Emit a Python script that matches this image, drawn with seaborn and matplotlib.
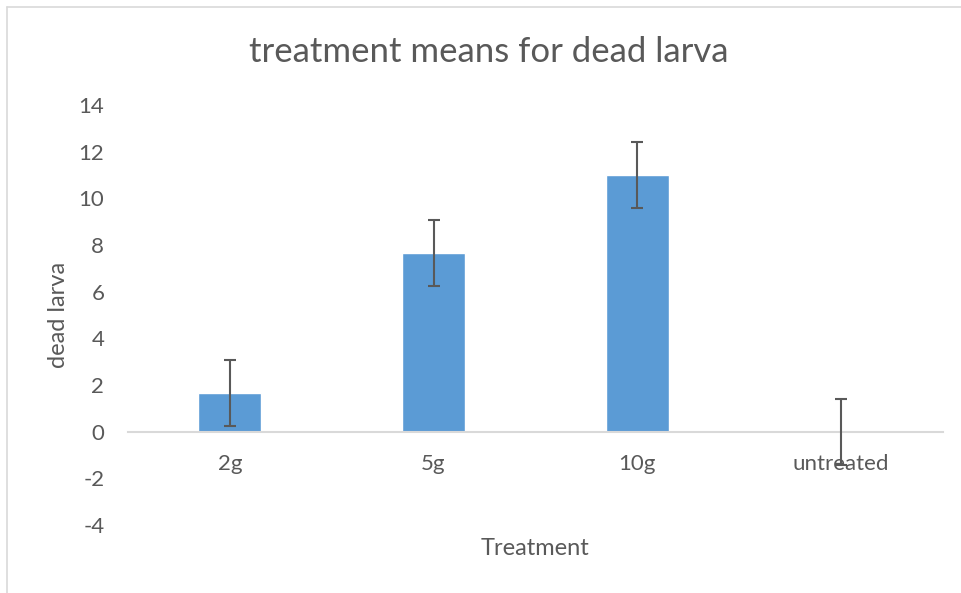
import pandas as pd
import matplotlib
matplotlib.use("Agg")
import matplotlib.pyplot as plt
from matplotlib.lines import Line2D
import seaborn as sns

# data
treatments = ["2g", "5g", "10g", "untreated"]
mean_dead = [1.67, 7.67, 11.0, 0.0]
err_dead = [1.41, 1.41, 1.41, 1.41]

df = pd.DataFrame({"Treatment": treatments, "dead larva": mean_dead})

sns.set_theme(style="white")
plt.rcParams["font.family"] = ["Lato", "DejaVu Sans"]
plt.rcParams["axes.unicode_minus"] = False
text_col = "#595959"

fig = plt.figure(figsize=(9.62, 5.93), dpi=100)
ax = fig.add_axes([0.133, 0.1147, 0.847, 0.7083])

sns.barplot(data=df, x="Treatment", y="dead larva", color="#5B9BD5",
            width=0.31, saturation=1, errorbar=None, ax=ax)
ax.errorbar(range(len(treatments)), mean_dead, yerr=err_dead, fmt="none",
            ecolor=text_col, elinewidth=1.5, capsize=4.5, capthick=1.5, zorder=5)

ax.set_ylim(-4, 14)
ax.set_xlim(-0.5, 3.5)
ax.set_yticks(range(-4, 15, 2))
for s in ["top", "right", "left"]:
    ax.spines[s].set_visible(False)
ax.spines["bottom"].set_position(("data", 0))
ax.spines["bottom"].set_color("#D9D9D9")
ax.spines["bottom"].set_linewidth(1.5)
ax.spines["bottom"].set_zorder(1)
ax.tick_params(axis="both", length=0, labelsize=16, labelcolor=text_col)
ax.tick_params(axis="y", pad=17)
ax.tick_params(axis="x", pad=16)

fig.text(489 / 962, 1 - 52 / 593, "treatment means for dead larva",
         fontsize=25, color=text_col, ha="center", va="center")
ax.set_xlabel("Treatment", fontsize=17, color=text_col)
ax.xaxis.set_label_coords(0.5, -0.03)
ax.set_ylabel("dead larva", fontsize=17, color=text_col)
ax.yaxis.set_label_coords(-0.072, 0.5)

# chart frame edge (top and left visible in the crop)
fig.add_artist(Line2D([7/962, 7/962], [0, 1 - 7/593], color="#D9D9D9", lw=1.2))
fig.add_artist(Line2D([7/962, 1], [1 - 7/593, 1 - 7/593], color="#D9D9D9", lw=1.2))

fig.savefig("out.png", dpi=100)
